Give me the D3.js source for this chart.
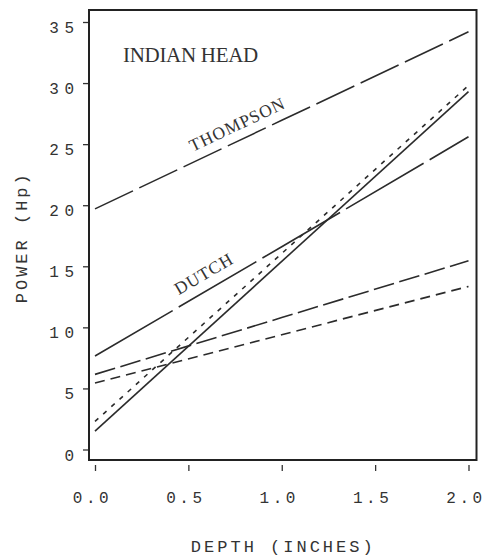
<!DOCTYPE html>
<html>
<head>
<meta charset="utf-8">
<script src="https://cdn.jsdelivr.net/npm/d3@7"></script>
<style>
  body { margin: 0; background: #fff; }
  svg { display: block; }
  .tick-label { font-family: "Liberation Mono", monospace; font-size: 16px; fill: #333; }
  .axis-title { font-family: "Liberation Mono", monospace; font-size: 17px; fill: #333; letter-spacing: 3px; }
  .note { font-family: "Liberation Serif", serif; fill: #333; }
</style>
</head>
<body>
<div id="chart"></div>
<script>
(function(){
    /* global d3 */
    // depth (inches) and power (Hp)
    var depth = [0, 1, 2];
    var thompson = [19.7, 26.95, 34.2];
    var dutch = [7.65, 16.6, 25.6];
    var solidLine = [1.5, 15.4, 29.3];
    var dottedLine = [2.3, 16.05, 29.8];
    var longDash = [6.15, 10.8, 15.45];
    var shortDash = [5.45, 9.4, 13.35];

    var xTicks = [0, 0.5, 1, 1.5, 2];
    var yTicks = [0, 5, 10, 15, 20, 25, 30, 35];

    var series = [
        { name: 'thompson', values: thompson, dash: '42,7' },
        { name: 'dutch', values: dutch, dash: '90,7' },
        { name: 'solid', values: solidLine, dash: null },
        { name: 'dotted', values: dottedLine, dash: '4.5,6.5' },
        { name: 'long', values: longDash, dash: '21,5.5' },
        { name: 'short', values: shortDash, dash: '10,6' }
    ];

    var W = 486, H = 558;
    var frame = { left: 89, top: 10, right: 476.5, bottom: 460 };

    var x = d3.scaleLinear().domain([0, 2]).range([95, 468.5]);
    var y = d3.scaleLinear().domain([0, 35]).range([449.5, 22]);

    var svg = d3.select('#chart').append('svg')
        .attr('width', W).attr('height', H);

    // y axis, ticks outside the frame, labels sit just below their tick
    var yAxis = svg.append('g')
        .attr('transform', 'translate(' + frame.left + ',0)')
        .call(d3.axisLeft(y).tickValues(yTicks).tickSize(6).tickPadding(3.5));
    yAxis.select('.domain').remove();
    yAxis.selectAll('line').attr('stroke', '#333').attr('stroke-width', 1.3);
    yAxis.selectAll('text')
        .attr('class', 'tick-label')
        .attr('letter-spacing', 5.5)
        .attr('dy', 10.5)
        .attr('fill', null);
    yAxis.attr('font-family', null).attr('font-size', null);

    var xAxis = svg.append('g')
        .attr('transform', 'translate(0,465)')
        .call(d3.axisBottom(x).tickValues(xTicks).tickSize(6).tickFormat(d3.format('.1f')));
    xAxis.select('.domain').remove();
    xAxis.selectAll('line').attr('stroke', '#333').attr('stroke-width', 1.3);
    xAxis.selectAll('text')
        .attr('class', 'tick-label')
        .attr('letter-spacing', 3.5)
        .attr('y', 38)
        .attr('dy', 0)
        .attr('dx', -3)
        .attr('fill', null);
    xAxis.attr('font-family', null).attr('font-size', null);

    // frame
    svg.append('rect')
        .attr('x', frame.left).attr('y', frame.top)
        .attr('width', frame.right - frame.left)
        .attr('height', frame.bottom - frame.top)
        .attr('fill', 'none')
        .attr('stroke', '#222')
        .attr('stroke-width', 2);

    var line = d3.line()
        .x((d, i) => x(depth[i]))
        .y(d => y(d));

    svg.selectAll('path.series')
        .data(series).enter()
        .append('path')
        .attr('class', 'series')
        .attr('d', d => line(d.values))
        .attr('fill', 'none')
        .attr('stroke', '#2b2b2b')
        .attr('stroke-width', 1.6)
        .attr('stroke-dasharray', d => d.dash);

    // labels along the lines
    function valueAt(vals, t){
        return vals[0] + (vals[vals.length - 1] - vals[0]) * t / 2;
    }
    function angleOf(vals){
        var dy = y(vals[vals.length - 1]) - y(vals[0]);
        var dx = x(2) - x(0);
        return Math.atan2(dy, dx) * 180 / Math.PI;
    }
    [
        { text: 'THOMPSON', vals: thompson, at: 0.545, off: -9.5, size: 17.5 },
        { text: 'DUTCH', vals: dutch, at: 0.475, off: -10, size: 17.5 }
    ].forEach(function(l){
        svg.append('text')
            .attr('class', 'note')
            .attr('font-size', l.size)
            .attr('letter-spacing', 1)
            .attr('transform', 'translate(' + x(l.at) + ',' + y(valueAt(l.vals, l.at)) + ') rotate(' + angleOf(l.vals) + ')')
            .attr('y', l.off)
            .text(l.text);
    });

    svg.append('text')
        .attr('class', 'note')
        .attr('font-size', 21)
        .attr('letter-spacing', -0.3)
        .attr('x', 123).attr('y', 62)
        .text('INDIAN HEAD');

    // axis titles
    svg.append('text')
        .attr('class', 'axis-title')
        .attr('text-anchor', 'middle')
        .attr('x', x(1) + 1.5).attr('y', 552)
        .text('DEPTH (INCHES)');

    svg.append('text')
        .attr('class', 'axis-title')
        .attr('text-anchor', 'middle')
        .attr('transform', 'translate(27,' + (y(17.5) + 1.5) + ') rotate(-90)')
        .text('POWER (Hp)');
})();
</script>
</body>
</html>
